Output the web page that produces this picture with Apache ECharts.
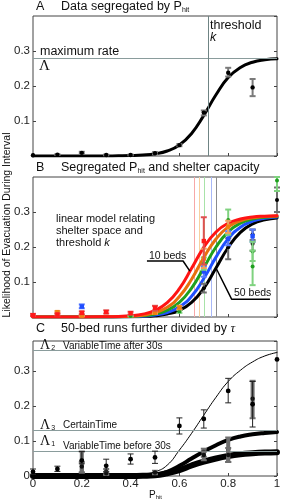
<!DOCTYPE html>
<html><head><meta charset="utf-8">
<script src="https://cdn.jsdelivr.net/npm/echarts@6/dist/echarts.min.js"></script>
<style>html,body{margin:0;padding:0;background:#fff}#c{width:284px;height:501px}</style>
</head><body><div id="c"></div>
<script>
// shared x grid for fitted curves
const curveX = [0,0.1,0.2,0.3,0.35,0.4,0.45,0.5,0.55,0.6,0.65,0.7,0.75,0.8,0.85,0.9,0.95,1];
// Panel A
const A_curve = [0,0,0,0.0002,0.0005,0.0011,0.0026,0.0062,0.0142,0.0314,0.0645,0.116,0.175,0.224,0.253,0.268,0.275,0.278];
const A_pts = [[0,0.002,0.002,0.002],[0.1,0.004,0.003,0.005],[0.2,0.009,0.006,0.012],[0.3,0.003,0.002,0.004],[0.4,0.003,0.002,0.004],[0.5,0.008,0.005,0.011],[0.6,0.031,0.028,0.034],[0.7,0.124,0.116,0.13],[0.8,0.238,0.227,0.252],[0.9,0.196,0.171,0.22]];
const A_maxRate = 0.28, A_k = 0.718;
// Panel B curves (10 .. 50 beds)
const B_red    = [0,0,0,0.0006,0.0015,0.0035,0.0083,0.0187,0.041,0.081,0.139,0.199,0.243,0.268,0.280,0.286,0.288,0.289];
const B_orange = [0,0,0,0.0004,0.001,0.0023,0.0053,0.0125,0.0278,0.0583,0.108,0.170,0.223,0.2575,0.275,0.2836,0.2873,0.2888];
const B_green  = [0,0,0,0.0003,0.0007,0.0016,0.0036,0.0085,0.0193,0.0419,0.0827,0.1407,0.200,0.2433,0.2678,0.2797,0.285,0.2873];
const B_blue   = [0,0,0,0.0002,0.0004,0.001,0.0024,0.0055,0.0128,0.0285,0.0595,0.1099,0.1711,0.2235,0.2566,0.2739,0.282,0.2854];
const B_black  = [0,0,0,0.0001,0.0003,0.0007,0.0015,0.0036,0.0084,0.0191,0.0416,0.0821,0.1398,0.1986,0.2417,0.2659,0.2777,0.283];
const B_thresh = [0.655,0.68,0.703,0.728,0.753];
const B_ptsRed = [[0,0.005,0.003,0.009],[0.1,0.007,0.004,0.01],[0.2,0.012,0.008,0.016],[0.3,0.014,0.01,0.019],[0.4,0.011,0.007,0.015],[0.5,0.026,0.018,0.032],[0.7,0.217,0.15,0.285]];
const B_ptsOrange = [[0.1,0.014,0.011,0.017],[0.2,0.004,0.002,0.006],[0.5,0.012,0.009,0.015],[0.6,0.027,0.022,0.032],[0.7,0.167,0.14,0.195],[0.8,0.258,0.24,0.275]];
const B_ptsGreen = [[0.4,0.003,0.002,0.004],[0.6,0.016,0.012,0.02],[0.7,0.152,0.135,0.17],[0.8,0.277,0.235,0.307],[0.9,0.187,0.16,0.215],[0.9,0.144,0.091,0.19],[1,0.39,0.36,0.4]];
const B_ptsBlue = [[0.2,0.03,0.025,0.036],[0.7,0.13,0.115,0.145],[0.8,0.223,0.205,0.245],[0.9,0.231,0.215,0.25]];
const B_ptsBlack = [[0.7,0.082,0.07,0.095],[0.8,0.199,0.165,0.225],[0.9,0.209,0.189,0.249],[0.9,0.236,0.22,0.25],[1,0.334,0.3,0.37]];
// Panel C
const C_after   = [0,0,0,0,0.0005,0.002,0.005,0.012,0.031,0.074,0.122,0.174,0.225,0.27,0.302,0.326,0.343,0.353];
const C_certain = [0,0,0,0,0,0,0.001,0.003,0.012,0.029,0.05,0.07,0.088,0.103,0.113,0.119,0.123,0.126];
const C_before  = [0,0,0,0,0,0,0.0005,0.002,0.008,0.017,0.03,0.041,0.05,0.057,0.062,0.065,0.067,0.068];
const C_levels = [0.36,0.131,0.073];
const C_ptsAfter = [[0,0.012,0.005,0.02],[0.1,0.02,0.013,0.028],[0.2,0.044,0.035,0.07],[0.3,0.029,0.012,0.048],[0.4,0.048,0.034,0.063],[0.5,0.053,0.036,0.071],[0.6,0.143,0.12,0.166],[0.7,0.163,0.137,0.189],[0.8,0.243,0.209,0.279],[0.9,0.205,0.14,0.27],[1,0.333,0.333,0.333]];
const C_ptsCertain = [[0.2,0.044,0.01,0.07],[0.3,0.012,0.005,0.02],[0.5,0.01,0.005,0.015],[0.7,0.069,0.055,0.078],[0.8,0.076,0.04,0.11],[0.9,0.221,0.165,0.272]];
const C_ptsBefore = [[0.2,0.027,0.01,0.04],[0.3,0.008,0.003,0.012],[0.7,0.06,0.045,0.07],[0.8,0.06,0.04,0.08]];

const FONT = "'Liberation Sans', Arial, sans-serif";
const zip = ys => curveX.map((x,i)=>[x,ys[i]]);
const chart = echarts.init(document.getElementById('c'), null, {renderer:'canvas'});

const grids = [
  {left:33, top:16, width:244, height:140, show:true, borderColor:'#444', borderWidth:1, backgroundColor:'#fff'},
  {left:33, top:177, width:244, height:140, show:true, borderColor:'#444', borderWidth:1, backgroundColor:'#fff'},
  {left:33, top:341, width:244, height:135, show:true, borderColor:'#444', borderWidth:1, backgroundColor:'#fff'}
];
const yMax = [0.4,0.4,135/350];
const xAxes = grids.map((g,i)=>({type:'value', gridIndex:i, min:0, max:1, interval:0.2,
  axisLine:{show:false}, splitLine:{show:false},
  axisTick:{show:true, inside:true, length:3, lineStyle:{color:'#444'}},
  axisLabel:{show:i===2, fontFamily:FONT, fontSize:11.5, color:'#222', margin:2,
    formatter:v=> (v===0||v===1)? String(v) : v.toFixed(1)}}));
const yAxes = [];
grids.forEach((g,i)=>{
  const base = {type:'value', gridIndex:i, min:0, max:yMax[i], interval:0.1, splitLine:{show:false}, axisLine:{show:false},
    axisTick:{show:true, inside:true, length:3, lineStyle:{color:'#444'}}};
  yAxes.push(Object.assign({}, base, {position:'left', axisLabel:{show:true, fontFamily:FONT, fontSize:11.5, color:'#222', margin:3, showMaxLabel:false,
    formatter:v=> (v===0 ? (i===2?'0':'') : (v>=0.35?'':v.toFixed(1)))}}));
  yAxes.push(Object.assign({}, base, {position:'right', axisLabel:{show:false}}));
});

function errSeries(gi, data, o){
  return {type:'custom', xAxisIndex:gi, yAxisIndex:gi*2, data, z:o.z||5, silent:true,
    encode:{x:0,y:1},
    renderItem(params, api){
      const x=api.value(0), y=api.value(1), lo=api.value(2), hi=api.value(3);
      const p=api.coord([x,y]), a=api.coord([x,lo]), b=api.coord([x,hi]);
      const ch=[];
      if (hi>lo){
        ch.push({type:'line', shape:{x1:a[0],y1:a[1],x2:b[0],y2:b[1]}, style:{stroke:o.bar, lineWidth:o.lw}});
        [a,b].forEach(q=>ch.push({type:'line', shape:{x1:q[0]-o.cap,y1:q[1],x2:q[0]+o.cap,y2:q[1]}, style:{stroke:o.bar, lineWidth:o.capLw||1}}));
      }
      if (o.square) ch.push({type:'rect', shape:{x:p[0]-o.r, y:p[1]-o.r, width:2*o.r, height:2*o.r}, style:{fill:o.dot}});
      else ch.push({type:'circle', shape:{cx:p[0], cy:p[1], r:o.r}, style:{fill:o.dot}});
      return {type:'group', children:ch};
    }};
}
function curve(gi, ys, color, w, z, extra){
  return Object.assign({type:'line', xAxisIndex:gi, yAxisIndex:gi*2, data:zip(ys), showSymbol:false, smooth:0.5,
    lineStyle:{color, width:w, cap:'round', join:'round'}, z:z||3, silent:true}, extra||{});
}
const gl = '#8a9c9c';
const series = [
  // Panel A
  curve(0, A_curve, '#000', 3, 4, {markLine:{silent:true, symbol:'none', label:{show:false},
    data:[{yAxis:A_maxRate, lineStyle:{color:gl, width:1, type:'solid'}},{xAxis:A_k, lineStyle:{color:'#6f8484', width:1, type:'solid'}}]}}),
  errSeries(0, A_pts, {bar:'#7a7a7a', lw:2, cap:3, capLw:2, dot:'#000', r:2.2, z:6}),
  // Panel B
  curve(1, B_black, '#000', 3, 3, {markLine:{silent:true, symbol:'none', label:{show:false}, z:1,
    data:B_thresh.map((k,i)=>({xAxis:k, lineStyle:{color:['#f7a8a8','#f8cfa0','#a8e3a8','#a8b8f8','#8c8c8c'][i], width:1, type:'solid'}}))}}),
  curve(1, B_blue, '#2050ff', 3, 3),
  curve(1, B_green, '#1fa01f', 3, 3),
  curve(1, B_orange, '#e8700e', 3, 3),
  curve(1, B_red, '#ff1414', 3, 3),
  errSeries(1, B_ptsBlack, {bar:'#707070', lw:2, cap:3, capLw:2, dot:'#000', r:2, z:6}),
  errSeries(1, B_ptsBlue, {bar:'#5a7cff', lw:2, cap:3, capLw:2, dot:'#1f4dff', r:2.2, square:true, z:6}),
  errSeries(1, B_ptsGreen, {bar:'#7fd27f', lw:2, cap:3, capLw:2, dot:'#1f9f1f', r:2, z:6}),
  errSeries(1, B_ptsOrange, {bar:'#f0a060', lw:2, cap:3, capLw:2, dot:'#f08010', r:2.2, square:true, z:6}),
  errSeries(1, B_ptsRed, {bar:'#e05050', lw:2, cap:3, capLw:2, dot:'#ff1a1a', r:2.2, square:true, z:6}),
  // pointer lines for labels
  {type:'line', xAxisIndex:1, yAxisIndex:2, data:[[0.467,0.160],[0.615,0.160],[0.643,0.131]], showSymbol:false, lineStyle:{color:'#000', width:1.5}, z:8, silent:true},
  {type:'line', xAxisIndex:1, yAxisIndex:2, data:[[0.75,0.14],[0.814,0.051],[0.971,0.051]], showSymbol:false, lineStyle:{color:'#000', width:1.5}, z:8, silent:true},
  // Panel C
  curve(2, C_after, '#000', 1, 4, {markLine:{silent:true, symbol:'none', label:{show:false},
    data:C_levels.map(v=>({yAxis:v, lineStyle:{color:gl, width:1.2, type:'solid'}}))}}),
  curve(2, C_certain, '#000', 4, 4),
  curve(2, C_before, '#000', 6, 4),
  errSeries(2, C_ptsCertain, {bar:'#6e6e6e', lw:4, cap:3, capLw:2, dot:'#111', r:2.2, z:6}),
  errSeries(2, C_ptsBefore, {bar:'#6e6e6e', lw:4, cap:3, capLw:2, dot:'#111', r:2.2, z:6}),
  errSeries(2, C_ptsAfter, {bar:'#222', lw:1, cap:3, capLw:1, dot:'#000', r:2.4, z:7})
];

const T = (x,y,text,o) => ({type:'text', x, y, z:100, silent:true,
  style:Object.assign({text, fontFamily:FONT, fontSize:12, fill:'#111', verticalAlign:'middle'}, o||{})});
const sub = {s:{fontSize:7, fontFamily:FONT, fill:'#111', padding:[7,0,0,0]}, n:{fontSize:12.5, fontFamily:FONT, fill:'#111'},
  t:{fontSize:13, fontFamily:"'Liberation Serif', serif", fontStyle:'italic', fill:'#111'}};
const lam = n => ({rich:{L:{fontSize:14,fontFamily:"'Liberation Serif', serif",fill:'#111'},s:{fontSize:7,fontFamily:FONT,fill:'#111',padding:[6,0,0,1]}}});
const graphic = [
  T(36,7,'A',{fontSize:12.5}),
  T(61,7,'{n|Data segregated by P}{s|hit}',{rich:sub}),
  T(36,168,'B',{fontSize:12.5}),
  T(61,168,'{n|Segregated P}{s|hit}{n| and shelter capacity}',{rich:sub}),
  T(36,329,'C',{fontSize:12.5}),
  T(61,329,'{n|50-bed runs further divided by }{t|τ}',{rich:sub}),
  T(210,26,'threshold',{fontSize:12.5}),
  T(210,38,'k',{fontSize:12.5, fontStyle:'italic'}),
  T(40,52,'maximum rate',{fontSize:12.5}),
  T(39,66,'Λ',{fontSize:15, fontFamily:"'Liberation Serif', serif"}),
  T(56,219,'linear model relating',{fontSize:11}),
  T(56,231,'shelter space and',{fontSize:11}),
  T(56,243,'{a|threshold }{b|k}',{rich:{a:{fontSize:11,fontFamily:FONT,fill:'#111'},b:{fontSize:11,fontFamily:FONT,fontStyle:'italic',fill:'#111'}}}),
  T(149,256,'10 beds',{fontSize:10.5}),
  T(234,293,'50 beds',{fontSize:10.5}),
  T(40,345,'{L|Λ}{s|2}',lam()),
  T(63,346,'VariableTime after 30s',{fontSize:10}),
  T(40,425,'{L|Λ}{s|3}',lam()),
  T(63,425,'CertainTime',{fontSize:10}),
  T(40,441,'{L|Λ}{s|1}',lam()),
  T(63,446,'VariableTime before 30s',{fontSize:10}),
  T(149,495,'{a|P}{s|hit}',{rich:{a:{fontSize:10,fontFamily:FONT,fill:'#111'},s:{fontSize:6,fontFamily:FONT,fill:'#111',padding:[5,0,0,0]}}}),
  {type:'text', x:7, y:225, rotation:Math.PI/2, z:100, silent:true,
   style:{text:'Likelihood of Evacuation During Interval', fontFamily:FONT, fontSize:10.5, fill:'#111', align:'center', verticalAlign:'middle'}}
];

chart.setOption({animation:false, backgroundColor:'#fff', grid:grids, xAxis:xAxes, yAxis:yAxes, series, graphic});
</script></body></html>
